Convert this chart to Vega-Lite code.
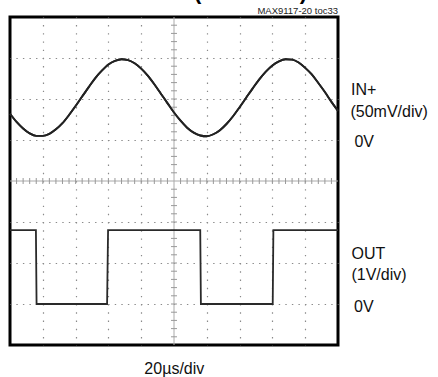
{
  "$schema": "https://vega.github.io/schema/vega-lite/v6.json",
  "autosize": {"type": "none"},
  "padding": {"left": 10, "top": 17, "right": 100, "bottom": 32},
  "width": 328,
  "height": 328,
  "config": {
    "view": {"stroke": "#000", "strokeWidth": 3},
    "font": "Liberation Sans"
  },
  "datasets": {
    "sine": [
      {"t": 0, "v": 1.64}, {"t": 0.2, "v": 1.44}, {"t": 0.4, "v": 1.28}, {"t": 0.6, "v": 1.16}, {"t": 0.8, "v": 1.10},
      {"t": 1.0, "v": 1.10}, {"t": 1.2, "v": 1.15}, {"t": 1.4, "v": 1.26}, {"t": 1.6, "v": 1.41}, {"t": 1.8, "v": 1.61},
      {"t": 2.0, "v": 1.83}, {"t": 2.2, "v": 2.06}, {"t": 2.4, "v": 2.29}, {"t": 2.6, "v": 2.51}, {"t": 2.8, "v": 2.69},
      {"t": 3.0, "v": 2.84}, {"t": 3.2, "v": 2.93}, {"t": 3.4, "v": 2.97}, {"t": 3.6, "v": 2.95}, {"t": 3.8, "v": 2.87},
      {"t": 4.0, "v": 2.74}, {"t": 4.2, "v": 2.57}, {"t": 4.4, "v": 2.36}, {"t": 4.6, "v": 2.13}, {"t": 4.8, "v": 1.90},
      {"t": 5.0, "v": 1.67}, {"t": 5.2, "v": 1.47}, {"t": 5.4, "v": 1.30}, {"t": 5.6, "v": 1.18}, {"t": 5.8, "v": 1.11},
      {"t": 6.0, "v": 1.09}, {"t": 6.2, "v": 1.14}, {"t": 6.4, "v": 1.24}, {"t": 6.6, "v": 1.39}, {"t": 6.8, "v": 1.58},
      {"t": 7.0, "v": 1.80}, {"t": 7.2, "v": 2.03}, {"t": 7.4, "v": 2.26}, {"t": 7.6, "v": 2.48}, {"t": 7.8, "v": 2.67},
      {"t": 8.0, "v": 2.82}, {"t": 8.2, "v": 2.92}, {"t": 8.4, "v": 2.97}, {"t": 8.6, "v": 2.96}, {"t": 8.8, "v": 2.89},
      {"t": 9.0, "v": 2.76}, {"t": 9.2, "v": 2.60}, {"t": 9.4, "v": 2.39}, {"t": 9.6, "v": 2.17}, {"t": 9.8, "v": 1.93},
      {"t": 10.0, "v": 1.71}
    ],
    "square": [
      {"t": 0, "v": -1.2}, {"t": 0.79, "v": -1.2}, {"t": 0.81, "v": -3.0}, {"t": 2.96, "v": -3.0},
      {"t": 2.99, "v": -1.2}, {"t": 5.80, "v": -1.2}, {"t": 5.82, "v": -3.0}, {"t": 8.01, "v": -3.0},
      {"t": 8.03, "v": -1.2}, {"t": 10, "v": -1.2}
    ],
    "hticks": [
      {"p": 0.2}, {"p": 0.4}, {"p": 0.6}, {"p": 0.8}, {"p": 1}, {"p": 1.2}, {"p": 1.4}, {"p": 1.6}, {"p": 1.8}, {"p": 2},
      {"p": 2.2}, {"p": 2.4}, {"p": 2.6}, {"p": 2.8}, {"p": 3}, {"p": 3.2}, {"p": 3.4}, {"p": 3.6}, {"p": 3.8}, {"p": 4},
      {"p": 4.2}, {"p": 4.4}, {"p": 4.6}, {"p": 4.8}, {"p": 5.2}, {"p": 5.4}, {"p": 5.6}, {"p": 5.8}, {"p": 6},
      {"p": 6.2}, {"p": 6.4}, {"p": 6.6}, {"p": 6.8}, {"p": 7}, {"p": 7.2}, {"p": 7.4}, {"p": 7.6}, {"p": 7.8}, {"p": 8},
      {"p": 8.2}, {"p": 8.4}, {"p": 8.6}, {"p": 8.8}, {"p": 9}, {"p": 9.2}, {"p": 9.4}, {"p": 9.6}, {"p": 9.8}
    ],
    "vticks": [
      {"p": -3.8}, {"p": -3.6}, {"p": -3.4}, {"p": -3.2}, {"p": -3}, {"p": -2.8}, {"p": -2.6}, {"p": -2.4}, {"p": -2.2}, {"p": -2},
      {"p": -1.8}, {"p": -1.6}, {"p": -1.4}, {"p": -1.2}, {"p": -1}, {"p": -0.8}, {"p": -0.6}, {"p": -0.4}, {"p": -0.2},
      {"p": 0.2}, {"p": 0.4}, {"p": 0.6}, {"p": 0.8}, {"p": 1}, {"p": 1.2}, {"p": 1.4}, {"p": 1.6}, {"p": 1.8}, {"p": 2},
      {"p": 2.2}, {"p": 2.4}, {"p": 2.6}, {"p": 2.8}, {"p": 3}, {"p": 3.2}, {"p": 3.4}, {"p": 3.6}, {"p": 3.8}
    ],
    "rightLabels": [
      {"x": 10.4, "y": 2.09, "text": "IN+"},
      {"x": 10.38, "y": 1.55, "text": "(50mV/div)"},
      {"x": 10.5, "y": 0.82, "text": "0V"},
      {"x": 10.41, "y": -1.91, "text": "OUT"},
      {"x": 10.41, "y": -2.42, "text": "(1V/div)"},
      {"x": 10.49, "y": -3.19, "text": "0V"}
    ],
    "bottomLabel": [{"x": 5.01, "y": -4.71, "text": "20µs/div"}],
    "codeLabel": [{"x": 10.0, "y": 4.066, "text": "MAX9117-20 toc33"}],
    "titleLabel": [{"x": 7.33, "y": 4.43, "text": "(VCC = 5V)"}]
  },
  "layer": [
    {
      "data": {"name": "sine"},
      "mark": {"type": "line", "stroke": "#222", "strokeWidth": 1.9, "interpolate": "monotone"},
      "encoding": {
        "x": {
          "field": "t", "type": "quantitative",
          "scale": {"domain": [0, 10], "nice": false, "zero": false},
          "axis": {"values": [1, 2, 3, 4, 6, 7, 8, 9], "grid": true, "gridColor": "#8a8a8a", "gridWidth": 1.2, "gridDash": [1.4, 6.81], "gridDashOffset": 0.7, "labels": false, "ticks": false, "domain": false, "title": null}
        },
        "y": {
          "field": "v", "type": "quantitative",
          "scale": {"domain": [-4, 4], "nice": false, "zero": false},
          "axis": {"values": [-3, -2, -1, 1, 2, 3], "grid": true, "gridColor": "#8a8a8a", "gridWidth": 1.2, "gridDash": [1.4, 5.16], "gridDashOffset": 0.7, "labels": false, "ticks": false, "domain": false, "title": null}
        }
      }
    },
    {
      "data": {"values": [{"a": 5}]},
      "mark": {"type": "rule", "stroke": "#aaa", "strokeWidth": 1},
      "encoding": {"x": {"field": "a", "type": "quantitative"}}
    },
    {
      "data": {"values": [{"a": 0}]},
      "mark": {"type": "rule", "stroke": "#aaa", "strokeWidth": 1},
      "encoding": {"y": {"field": "a", "type": "quantitative"}}
    },
    {
      "data": {"name": "hticks"},
      "mark": {"type": "tick", "orient": "vertical", "color": "#999", "size": 6, "thickness": 1, "opacity": 1},
      "encoding": {"x": {"field": "p", "type": "quantitative"}, "y": {"datum": 0}}
    },
    {
      "data": {"name": "vticks"},
      "mark": {"type": "tick", "orient": "horizontal", "color": "#999", "size": 6, "thickness": 1, "opacity": 1},
      "encoding": {"y": {"field": "p", "type": "quantitative"}, "x": {"datum": 5}}
    },
    {
      "data": {"name": "sine"},
      "mark": {"type": "line", "stroke": "#222", "strokeWidth": 1.9, "interpolate": "monotone"},
      "encoding": {"x": {"field": "t", "type": "quantitative"}, "y": {"field": "v", "type": "quantitative"}}
    },
    {
      "data": {"name": "square"},
      "mark": {"type": "line", "stroke": "#2a2a2a", "strokeWidth": 1.8},
      "encoding": {"x": {"field": "t", "type": "quantitative"}, "y": {"field": "v", "type": "quantitative"}}
    },
    {
      "data": {"name": "rightLabels"},
      "mark": {"type": "text", "align": "left", "baseline": "alphabetic", "font": "Liberation Sans", "fontSize": 16, "color": "#111"},
      "encoding": {"x": {"field": "x", "type": "quantitative"}, "y": {"field": "y", "type": "quantitative"}, "text": {"field": "text"}}
    },
    {
      "data": {"name": "bottomLabel"},
      "mark": {"type": "text", "align": "center", "baseline": "alphabetic", "font": "Liberation Sans", "fontSize": 16, "color": "#111"},
      "encoding": {"x": {"field": "x", "type": "quantitative"}, "y": {"field": "y", "type": "quantitative"}, "text": {"field": "text"}}
    },
    {
      "data": {"name": "codeLabel"},
      "mark": {"type": "text", "align": "right", "baseline": "alphabetic", "font": "Liberation Sans", "fontSize": 9.5, "color": "#222"},
      "encoding": {"x": {"field": "x", "type": "quantitative"}, "y": {"field": "y", "type": "quantitative"}, "text": {"field": "text"}}
    },
    {
      "data": {"name": "titleLabel"},
      "mark": {"type": "text", "align": "center", "baseline": "alphabetic", "font": "Liberation Sans", "fontWeight": "bold", "fontSize": 22, "color": "#000"},
      "encoding": {"x": {"field": "x", "type": "quantitative"}, "y": {"field": "y", "type": "quantitative"}, "text": {"field": "text"}}
    }
  ]
}
